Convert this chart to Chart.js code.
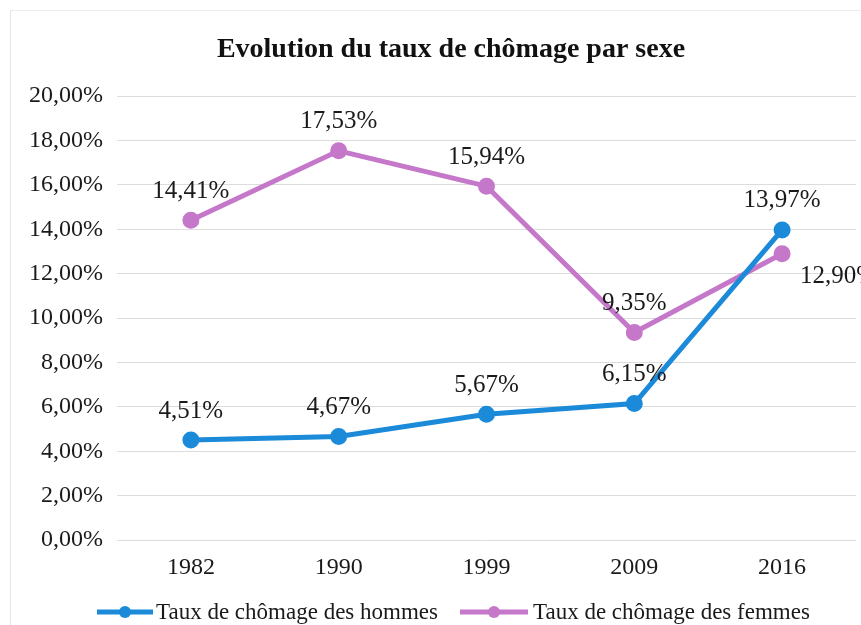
<!DOCTYPE html>
<html>
<head>
<meta charset="utf-8">
<script src="https://cdn.jsdelivr.net/npm/chart.js@4/dist/chart.umd.min.js"></script>
<style>
  html, body { margin: 0; padding: 0; background: #fff; }
  #wrap { position: relative; width: 861px; height: 625px; }
  #frame { position: absolute; left: 10px; top: 10px; right: 0; bottom: 0;
           border-left: 1px solid #e4e4e4; border-top: 1px solid #ececec; }
</style>
</head>
<body>
<div id="wrap">
  <div id="frame"></div>
  <canvas id="chart" width="861" height="625"></canvas>
</div>
<script>
// --- DATA ---
const years = ['1982', '1990', '1999', '2009', '2016'];
const hommes = [4.51, 4.67, 5.67, 6.15, 13.97];
const femmes = [14.41, 17.53, 15.94, 9.35, 12.90];
const seriesNames = ['Taux de chômage des hommes', 'Taux de chômage des femmes'];
const chartTitle = 'Evolution du taux de chômage par sexe';
const labelSide = [
  ['top', 'top', 'top', 'top', 'top'],
  ['top', 'top', 'top', 'top', 'right']
];

const SERIF = '"Liberation Serif", "Times New Roman", serif';
const BLUE = '#1b8ad8';
const PINK = '#c577c9';

const fmt = v => v.toFixed(2).replace('.', ',') + '%';

// title, slightly right of canvas centre like the original
const titlePlugin = {
  id: 'titlePlugin',
  afterDraw(chart) {
    const ctx = chart.ctx;
    ctx.save();
    ctx.font = 'bold 28px ' + SERIF;
    ctx.fillStyle = '#111';
    ctx.textAlign = 'center';
    ctx.textBaseline = 'middle';
    ctx.fillText(chartTitle, 451, 50);
    ctx.restore();
  }
};

// draws value labels next to each point
const valueLabels = {
  id: 'valueLabels',
  afterDatasetsDraw(chart) {
    const ctx = chart.ctx;
    ctx.save();
    ctx.font = '25px ' + SERIF;
    ctx.fillStyle = '#1a1a1a';
    chart.data.datasets.forEach((ds, i) => {
      chart.getDatasetMeta(i).data.forEach((pt, j) => {
        const side = labelSide[i][j];
        if (side === 'right') {
          ctx.textAlign = 'left';
          ctx.textBaseline = 'middle';
          ctx.fillText(fmt(ds.data[j]), pt.x + 18, pt.y + 23);
        } else {
          ctx.textAlign = 'center';
          ctx.textBaseline = 'middle';
          ctx.fillText(fmt(ds.data[j]), pt.x, pt.y - 29);
        }
      });
    });
    ctx.restore();
  }
};

// bottom legend with line + marker
const lineLegend = {
  id: 'lineLegend',
  afterDraw(chart) {
    const ctx = chart.ctx;
    ctx.save();
    ctx.font = '23px ' + SERIF;
    ctx.textBaseline = 'middle';
    ctx.textAlign = 'left';
    const y = 612;
    const items = [[97, 153, 156], [460, 528, 533]];
    chart.data.datasets.forEach((ds, i) => {
      const [a, b, t] = items[i];
      ctx.strokeStyle = ds.borderColor;
      ctx.lineWidth = 5;
      ctx.beginPath();
      ctx.moveTo(a, y);
      ctx.lineTo(b, y);
      ctx.stroke();
      ctx.fillStyle = ds.borderColor;
      ctx.beginPath();
      ctx.arc((a + b) / 2, y, 6, 0, Math.PI * 2);
      ctx.fill();
      ctx.fillStyle = '#1a1a1a';
      ctx.fillText(ds.label, t, y + 1);
    });
    ctx.restore();
  }
};

new Chart(document.getElementById('chart'), {
  type: 'line',
  data: {
    labels: years,
    datasets: [
      { label: seriesNames[0], data: hommes, borderColor: BLUE, backgroundColor: BLUE,
        borderWidth: 5, pointRadius: 6, pointHoverRadius: 6, tension: 0 },
      { label: seriesNames[1], data: femmes, borderColor: PINK, backgroundColor: PINK,
        borderWidth: 5, pointRadius: 6, pointHoverRadius: 6, tension: 0 }
    ]
  },
  options: {
    responsive: false,
    animation: false,
    layout: { autoPadding: false, padding: { left: 15, right: 5, top: 96, bottom: 38 } },
    plugins: {
      legend: { display: false },
      tooltip: { enabled: false },
      title: { display: false }
    },
    scales: {
      x: {
        offset: true,
        afterFit: s => { s.paddingLeft = 0; s.paddingRight = 0; },
        grid: { display: false },
        border: { display: false },
        ticks: { color: '#1a1a1a', font: { family: SERIF, size: 24 }, padding: 5 }
      },
      y: {
        min: 0, max: 20,
        ticks: { stepSize: 2, color: '#1a1a1a', font: { family: SERIF, size: 24 }, padding: 14,
                 callback: v => fmt(v) },
        grid: { color: '#dcdcdc', lineWidth: 1, drawTicks: false },
        border: { display: false }
      }
    }
  },
  plugins: [valueLabels, lineLegend, titlePlugin]
});
</script>
</body>
</html>
